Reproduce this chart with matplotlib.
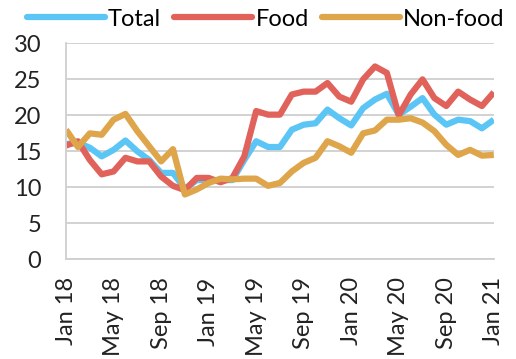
import numpy as np
import pandas as pd
import matplotlib
matplotlib.use("Agg")
import matplotlib.pyplot as plt

plt.rcParams["font.family"] = ["Lato", "DejaVu Sans"]

# Monthly inflation, Jan 2018 - Jan 2021 (% y/y)
months = pd.date_range("2018-01-01", "2021-01-01", freq="MS")
total = [16.0, 16.2, 15.5, 14.3, 15.2, 16.5, 15.0, 13.8, 12.0, 12.0, 9.8, 11.0,
         11.0, 11.0, 11.0, 13.8, 16.4, 15.6, 15.6, 18.0, 18.7, 18.9, 20.8, 19.6,
         18.6, 21.0, 22.2, 23.0, 20.1, 21.2, 22.4, 20.1, 18.7, 19.4, 19.2, 18.2,
         19.4]
food = [15.8, 16.4, 13.8, 11.8, 12.2, 14.1, 13.6, 13.6, 11.5, 10.2, 9.6, 11.3,
        11.3, 10.7, 11.3, 14.3, 20.6, 20.1, 20.1, 22.9, 23.3, 23.3, 24.5, 22.6,
        21.9, 25.0, 26.8, 25.9, 20.0, 22.9, 25.0, 22.4, 21.3, 23.3, 22.2, 21.3,
        23.2]
nonfood = [18.0, 15.6, 17.5, 17.3, 19.4, 20.2, 17.8, 15.7, 13.6, 15.3, 9.0, 9.7,
           10.6, 11.2, 11.1, 11.2, 11.2, 10.2, 10.6, 12.2, 13.4, 14.1, 16.4, 15.7,
           14.8, 17.5, 17.9, 19.4, 19.4, 19.6, 19.0, 17.8, 15.9, 14.5, 15.2, 14.4,
           14.5]

series = [("Total", total, "#5bc6f5"),
          ("Food", food, "#e0625a"),
          ("Non-food", nonfood, "#dfa54b")]

fs = 17
fig = plt.figure(figsize=(5.16, 3.59), dpi=100)
ax = fig.add_axes([0.128, 0.278, 0.829, 0.601])

x = np.arange(len(months))
for name, vals, col in series:
    ax.plot(x, vals, color=col, lw=4.5, label=name,
            solid_joinstyle="round", solid_capstyle="butt")

ax.set_xlim(0, len(months) - 1)
ax.set_ylim(0, 30)
ax.set_yticks(range(0, 31, 5))
ticks = x[::4]
ax.set_xticks(ticks)
ax.set_xticklabels([months[i].strftime("%b %y") for i in ticks],
                   rotation=90, fontsize=fs, color="#222222")
ax.tick_params(axis="y", labelsize=fs, colors="#222222", length=0, pad=18)
ax.tick_params(axis="x", length=0, pad=13)

ax.grid(axis="y", color="#cfcfcf", lw=1.3)
ax.set_axisbelow(True)
for side in ["top", "right"]:
    ax.spines[side].set_visible(False)
for side in ["left", "bottom"]:
    ax.spines[side].set_color("#cfcfcf")
    ax.spines[side].set_linewidth(1.3)

leg = fig.legend(loc="upper center", bbox_to_anchor=(0.515, 1.035), ncol=3,
                 frameon=False, fontsize=fs, handlelength=3.3,
                 handletextpad=0.15, columnspacing=0.55)
for line in leg.get_lines():
    line.set_solid_capstyle("round")
    line.set_linewidth(4.5)

fig.savefig("out.png", dpi=100)
